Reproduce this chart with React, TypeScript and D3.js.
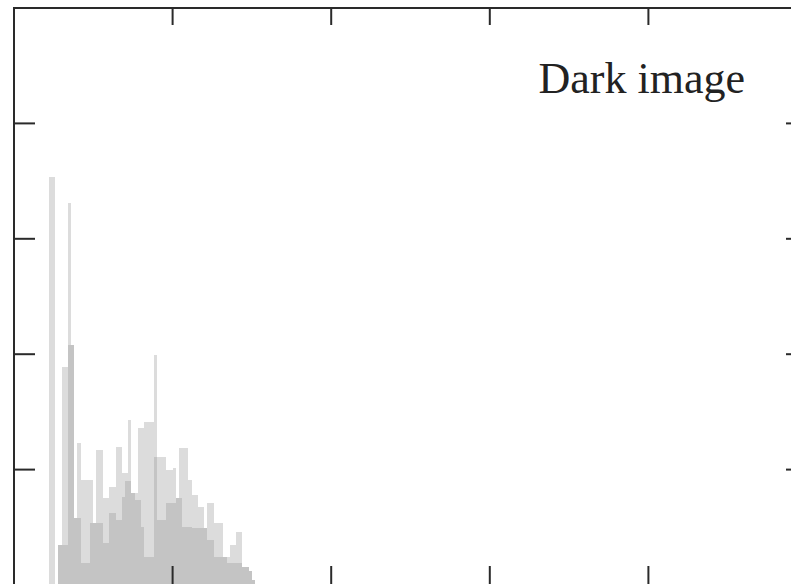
import { useEffect, useRef } from 'react';
import * as d3 from 'd3';

// histogram of a dark image, grey level bins starting at 11
const firstBin = 11;
const brightCounts = [
  3536, 3536, 0, 0, 1889, 1889, 3310, 2080, 0, 1231,
  910, 910, 910, 910, 537, 1170, 1170, 754, 754, 849,
  849, 1196, 1196, 971, 971, 1430, 797, 797, 1360, 1360,
  1413, 1413, 1413, 1993, 1109, 1109, 1109, 997, 997, 1013,
  754, 1187, 1187, 1187, 910, 780, 780, 676, 676, 494,
  711, 711, 537, 537, 537, 243, 243, 347, 347, 459,
  459, 156, 156, 120, 40,
];
const darkCounts = [
  0, 0, 0, 347, 347, 347, 2080, 2080, 581, 581,
  191, 191, 191, 537, 537, 537, 537, 364, 364, 624,
  624, 563, 563, 763, 900, 900, 797, 737, 737, 500,
  243, 243, 243, 1109, 563, 563, 563, 711, 711, 711,
  754, 754, 503, 503, 503, 494, 494, 494, 494, 494,
  390, 390, 243, 243, 243, 243, 191, 191, 191, 191,
  191, 156, 156, 120, 40,
];
const xTicks = [50, 100, 150, 200];
const yTicks = [1000, 2000, 3000, 4000];
const title = 'Dark image';

const App = () => {
  const svgRef = useRef<SVGSVGElement>(null);

  useEffect(() => {
    const svg = d3.select(svgRef.current);
    svg.selectAll('*').remove();

    const left = 14, right = 807, top = 8, bottom = 585;
    const x = d3.scaleLinear().domain([0, 250]).range([left, right]);
    const y = d3.scaleLinear().domain([0, 5000]).range([bottom, top]);
    const bw = x(1) - x(0);

    const drawBars = (counts: number[], fill: string) => {
      svg.append('g')
        .attr('shape-rendering', 'crispEdges')
        .selectAll('rect')
        .data(counts)
        .enter()
        .append('rect')
        .attr('x', (d, i) => x(firstBin + i))
        .attr('y', d => y(d))
        .attr('width', bw)
        .attr('height', d => bottom - y(d))
        .attr('fill', fill);
    };
    drawBars(brightCounts, '#dcdcdc');
    drawBars(darkCounts, '#c4c4c4');

    // frame
    svg.append('rect')
      .attr('x', left).attr('y', top)
      .attr('width', right - left).attr('height', bottom - top)
      .attr('fill', 'none').attr('stroke', '#2a2a2a').attr('stroke-width', 2);

    const ticks = svg.append('g').attr('stroke', '#2a2a2a').attr('stroke-width', 2);
    xTicks.forEach(t => {
      ticks.append('line').attr('x1', x(t)).attr('x2', x(t)).attr('y1', top).attr('y2', top + 17);
      ticks.append('line').attr('x1', x(t)).attr('x2', x(t)).attr('y1', bottom).attr('y2', bottom - 19);
    });
    yTicks.forEach(t => {
      ticks.append('line').attr('x1', left).attr('x2', left + 21).attr('y1', y(t)).attr('y2', y(t));
      ticks.append('line').attr('x1', right).attr('x2', right - 21).attr('y1', y(t)).attr('y2', y(t));
    });

    svg.append('text')
      .attr('x', 745)
      .attr('y', 93)
      .attr('text-anchor', 'end')
      .attr('font-family', '"Liberation Serif", "DejaVu Serif", serif')
      .attr('font-size', 44)
      .attr('fill', '#222')
      .text(title);
  }, []);

  return (
    <svg
      ref={svgRef}
      width={791}
      height={584}
      style={{ position: 'fixed', left: 0, top: 0, background: '#fff' }}
    ></svg>
  );
};

export default App;
